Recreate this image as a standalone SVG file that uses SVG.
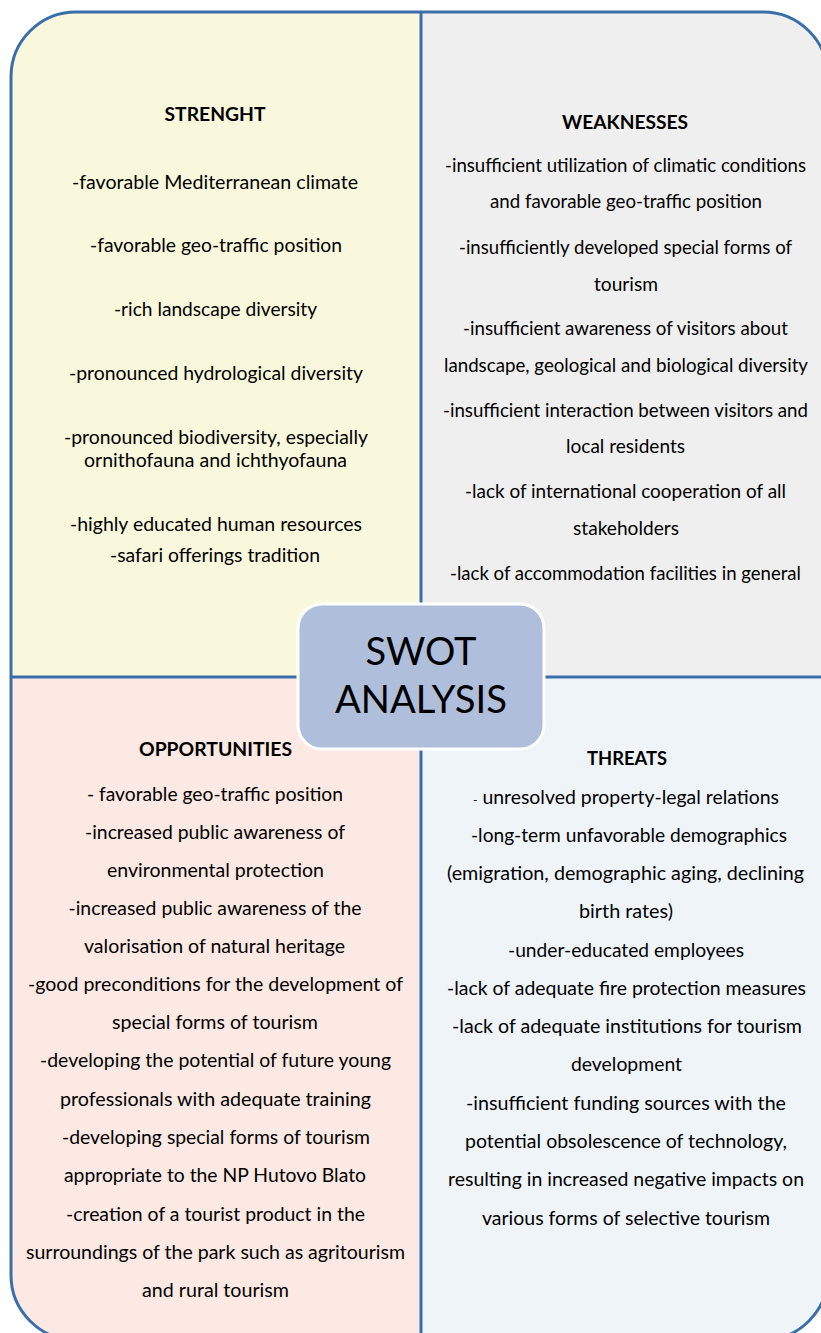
<svg xmlns="http://www.w3.org/2000/svg" width="821" height="1333" viewBox="0 0 821 1333">
<style>
.t{font-family:Lato,"Open Sans","Liberation Sans",sans-serif;font-size:19.5px;fill:#000;text-anchor:middle}
.w{font-size:18.8px}
.h{font-family:Lato,"Open Sans","Liberation Sans",sans-serif;font-size:19.3px;font-weight:bold;fill:#000;text-anchor:middle}
.c{font-family:Lato,"Open Sans","Liberation Sans",sans-serif;font-size:38.5px;fill:#000;text-anchor:middle}
.div{stroke:#3A6EAA;stroke-width:3;fill:none}
</style>
<defs>
<clipPath id="outer"><rect x="11" y="12" width="817" height="1328" rx="65" ry="65"/></clipPath>
</defs>
<rect width="821" height="1333" fill="#fff"/>
<g clip-path="url(#outer)">
<rect x="0" y="0" width="421" height="677" fill="#FAF8DC"/>
<rect x="421" y="0" width="410" height="677" fill="#EFEFEF"/>
<rect x="0" y="677" width="421" height="670" fill="#FCE9E3"/>
<rect x="421" y="677" width="410" height="670" fill="#EFF4F9"/>
</g>
<g id="connectors">
<line class="div" x1="421" y1="12" x2="421" y2="1340"/>
<line class="div" x1="11" y1="677" x2="828" y2="677"/>
<rect class="div" x="11" y="12" width="817" height="1328" rx="65" ry="65"/>
</g>
<g id="strength">
<text class="h" x="215" y="121" textLength="101" lengthAdjust="spacingAndGlyphs">STRENGHT</text>
<text class="t" x="215" y="189" textLength="286" lengthAdjust="spacingAndGlyphs">-favorable Mediterranean climate</text>
<text class="t" x="216" y="252" textLength="252" lengthAdjust="spacingAndGlyphs">-favorable geo-traffic position</text>
<text class="t" x="215.5" y="316" textLength="203" lengthAdjust="spacingAndGlyphs">-rich landscape diversity</text>
<text class="t" x="216" y="380" textLength="294" lengthAdjust="spacingAndGlyphs">-pronounced hydrological diversity</text>
<text class="t" x="216" y="444" textLength="304" lengthAdjust="spacingAndGlyphs">-pronounced biodiversity, especially</text>
<text class="t" x="215.5" y="467" textLength="263" lengthAdjust="spacingAndGlyphs">ornithofauna and ichthyofauna</text>
<text class="t" x="216" y="531" textLength="292" lengthAdjust="spacingAndGlyphs">-highly educated human resources</text>
<text class="t" x="215" y="562" textLength="210" lengthAdjust="spacingAndGlyphs">-safari offerings tradition</text>
</g>
<g id="weaknesses">
<text class="h" x="625" y="129" textLength="126" lengthAdjust="spacingAndGlyphs">WEAKNESSES</text>
<text class="t w" x="625.5" y="172" textLength="361" lengthAdjust="spacingAndGlyphs">-insufficient utilization of climatic conditions</text>
<text class="t w" x="626" y="208" textLength="272" lengthAdjust="spacingAndGlyphs">and favorable geo-traffic position</text>
<text class="t w" x="625.5" y="254" textLength="333" lengthAdjust="spacingAndGlyphs">-insufficiently developed special forms of</text>
<text class="t w" x="626" y="291" textLength="64" lengthAdjust="spacingAndGlyphs">tourism</text>
<text class="t w" x="625.5" y="335" textLength="325" lengthAdjust="spacingAndGlyphs">-insufficient awareness of visitors about</text>
<text class="t w" x="626" y="372" textLength="364" lengthAdjust="spacingAndGlyphs">landscape, geological and biological diversity</text>
<text class="t w" x="625.5" y="417" textLength="365" lengthAdjust="spacingAndGlyphs">-insufficient interaction between visitors and</text>
<text class="t w" x="625.5" y="453" textLength="119" lengthAdjust="spacingAndGlyphs">local residents</text>
<text class="t w" x="625.5" y="498" textLength="321" lengthAdjust="spacingAndGlyphs">-lack of international  cooperation of all</text>
<text class="t w" x="626" y="535" textLength="106" lengthAdjust="spacingAndGlyphs">stakeholders</text>
<text class="t w" x="625.5" y="580" textLength="351" lengthAdjust="spacingAndGlyphs">-lack of accommodation facilities in general</text>
</g>
<g id="opportunities">
<text class="h" x="215.5" y="756" textLength="153" lengthAdjust="spacingAndGlyphs">OPPORTUNITIES</text>
<text class="t" x="215" y="801" textLength="256" lengthAdjust="spacingAndGlyphs">- favorable geo-traffic position</text>
<text class="t" x="215" y="839" textLength="260" lengthAdjust="spacingAndGlyphs">-increased public awareness of</text>
<text class="t" x="215.5" y="877" textLength="217" lengthAdjust="spacingAndGlyphs">environmental protection</text>
<text class="t" x="215" y="915" textLength="293" lengthAdjust="spacingAndGlyphs">-increased public awareness of the</text>
<text class="t" x="214.5" y="953" textLength="261" lengthAdjust="spacingAndGlyphs">valorisation of natural heritage</text>
<text class="t" x="215.5" y="991" textLength="375" lengthAdjust="spacingAndGlyphs">-good preconditions for the development  of</text>
<text class="t" x="215" y="1029" textLength="206" lengthAdjust="spacingAndGlyphs">special forms of tourism</text>
<text class="t" x="215.5" y="1067" textLength="351" lengthAdjust="spacingAndGlyphs">-developing the potential of future young</text>
<text class="t" x="215.5" y="1106" textLength="311" lengthAdjust="spacingAndGlyphs">professionals with adequate training</text>
<text class="t" x="216" y="1144" textLength="308" lengthAdjust="spacingAndGlyphs">-developing special forms of tourism</text>
<text class="t" x="215" y="1182" textLength="302" lengthAdjust="spacingAndGlyphs">appropriate to the NP Hutovo Blato</text>
<text class="t" x="215.5" y="1221" textLength="299" lengthAdjust="spacingAndGlyphs">-creation of a tourist product in the</text>
<text class="t" x="215.5" y="1259" textLength="379" lengthAdjust="spacingAndGlyphs">surroundings of the park such as agritourism</text>
<text class="t" x="215.5" y="1297" textLength="147" lengthAdjust="spacingAndGlyphs">and rural tourism</text>
</g>
<g id="threats">
<text class="h" x="627" y="765" textLength="80" lengthAdjust="spacingAndGlyphs">THREATS</text>
<text class="t" x="626" y="804" textLength="306" lengthAdjust="spacingAndGlyphs"><tspan font-size="12">-</tspan> unresolved property-legal relations</text>
<text class="t" x="629" y="842" textLength="316" lengthAdjust="spacingAndGlyphs">-long-term unfavorable demographics</text>
<text class="t" x="625.5" y="880" textLength="357" lengthAdjust="spacingAndGlyphs">(emigration, demographic aging, declining</text>
<text class="t" x="626" y="918" textLength="94" lengthAdjust="spacingAndGlyphs">birth rates)</text>
<text class="t" x="626" y="957" textLength="236" lengthAdjust="spacingAndGlyphs">-under-educated employees</text>
<text class="t" x="626.5" y="995" textLength="359" lengthAdjust="spacingAndGlyphs">-lack of adequate fire protection measures</text>
<text class="t" x="627" y="1033" textLength="350" lengthAdjust="spacingAndGlyphs">-lack of adequate institutions  for tourism</text>
<text class="t" x="626.5" y="1071" textLength="111" lengthAdjust="spacingAndGlyphs">development</text>
<text class="t" x="626" y="1110" textLength="320" lengthAdjust="spacingAndGlyphs">-insufficient funding sources  with the</text>
<text class="t" x="626" y="1148" textLength="322" lengthAdjust="spacingAndGlyphs">potential obsolescence of technology,</text>
<text class="t" x="626" y="1186" textLength="356" lengthAdjust="spacingAndGlyphs">resulting in increased negative impacts on</text>
<text class="t" x="626" y="1225" textLength="288" lengthAdjust="spacingAndGlyphs">various forms of selective tourism</text>
</g>
<g id="center">
<rect x="298" y="604" width="246" height="145" rx="24" ry="24" fill="#AFBFDB" stroke="#fff" stroke-width="3"/>
<text class="c" x="421" y="665" textLength="111" lengthAdjust="spacingAndGlyphs">SWOT</text>
<text class="c" x="421" y="713" textLength="172" lengthAdjust="spacingAndGlyphs">ANALYSIS</text>
</g>
</svg>
